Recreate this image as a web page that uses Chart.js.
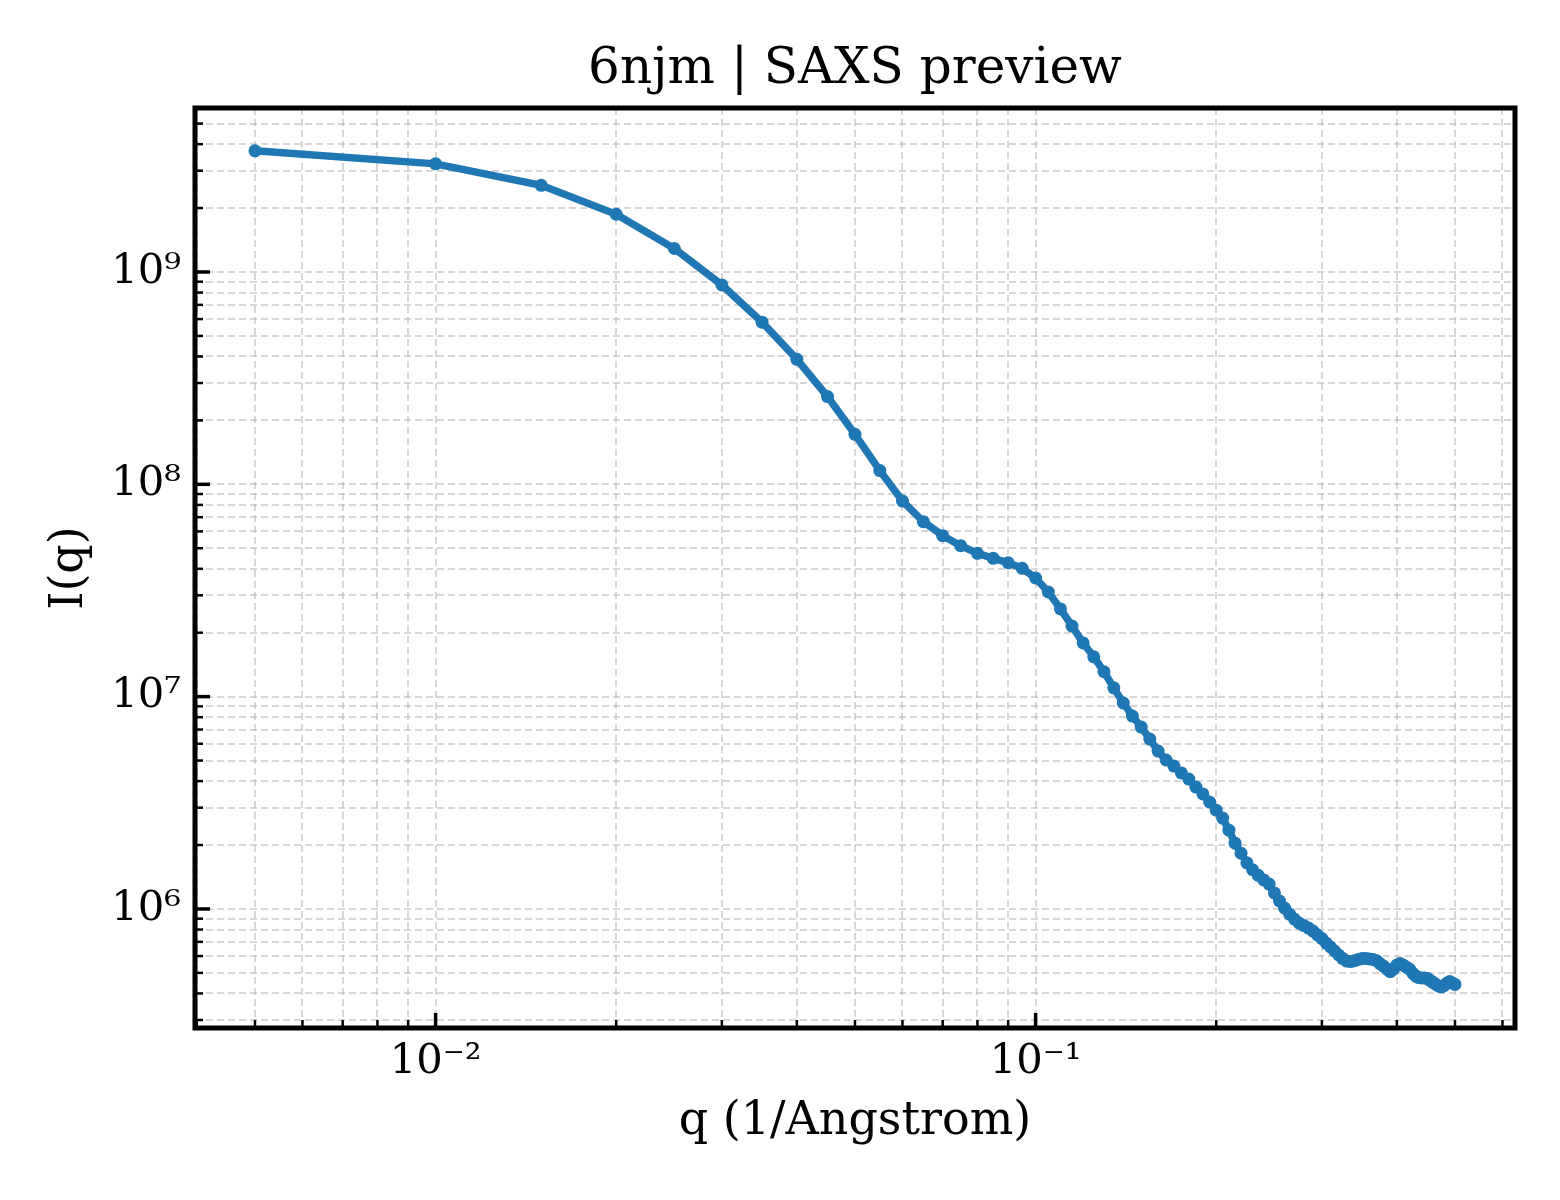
<!DOCTYPE html>
<html>
<head>
<meta charset="utf-8">
<title>6njm | SAXS preview</title>
<script src="https://cdn.jsdelivr.net/npm/chart.js@4.4.1/dist/chart.umd.min.js"></script>
<style>
  html, body { margin: 0; padding: 0; background: #ffffff; }
  #saxs-chart { display: block; }
</style>
</head>
<body>
<canvas id="saxs-chart" width="1560" height="1200" style="width:1560px;height:1200px"></canvas>
<script>
// q values (1/Angstrom)
var qValues = [
  0.005, 0.010, 0.015, 0.020, 0.025, 0.030, 0.035, 0.040, 0.045, 0.050,
  0.055, 0.060, 0.065, 0.070, 0.075, 0.080, 0.085, 0.090, 0.095, 0.100,
  0.105, 0.110, 0.115, 0.120, 0.125, 0.130, 0.135, 0.140, 0.145, 0.150,
  0.155, 0.160, 0.165, 0.170, 0.175, 0.180, 0.185, 0.190, 0.195, 0.200,
  0.205, 0.210, 0.215, 0.220, 0.225, 0.230, 0.235, 0.240, 0.245, 0.250,
  0.255, 0.260, 0.265, 0.270, 0.275, 0.280, 0.285, 0.290, 0.295, 0.300,
  0.305, 0.310, 0.315, 0.320, 0.325, 0.330, 0.335, 0.340, 0.345, 0.350,
  0.355, 0.360, 0.365, 0.370, 0.375, 0.380, 0.385, 0.390, 0.395, 0.400,
  0.405, 0.410, 0.415, 0.420, 0.425, 0.430, 0.435, 0.440, 0.445, 0.450,
  0.455, 0.460, 0.465, 0.470, 0.475, 0.480, 0.485, 0.490, 0.495, 0.500
];

// I(q)
var intensity = [
  3.72e9, 3.23e9, 2.56e9, 1.87e9, 1.29e9, 8.69e8, 5.80e8, 3.88e8, 2.59e8, 1.72e8,
  1.16e8, 8.34e7, 6.67e7, 5.73e7, 5.14e7, 4.73e7, 4.48e7, 4.27e7, 4.02e7, 3.62e7,
  3.11e7, 2.59e7, 2.15e7, 1.79e7, 1.54e7, 1.31e7, 1.10e7, 9.33e6, 8.10e6, 7.19e6,
  6.31e6, 5.54e6, 5.03e6, 4.71e6, 4.37e6, 4.09e6, 3.75e6, 3.48e6, 3.19e6, 2.92e6,
  2.68e6, 2.35e6, 2.04e6, 1.83e6, 1.65e6, 1.53e6, 1.44e6, 1.37e6, 1.31e6, 1.19e6,
  1.09e6, 1.01e6, 9.46e5, 8.96e5, 8.58e5, 8.35e5, 8.13e5, 7.87e5, 7.54e5, 7.25e5,
  6.91e5, 6.62e5, 6.34e5, 6.07e5, 5.84e5, 5.68e5, 5.65e5, 5.71e5, 5.78e5, 5.84e5,
  5.84e5, 5.81e5, 5.78e5, 5.71e5, 5.53e5, 5.38e5, 5.21e5, 5.07e5, 5.21e5, 5.44e5,
  5.53e5, 5.44e5, 5.32e5, 5.21e5, 4.99e5, 4.83e5, 4.75e5, 4.73e5, 4.73e5, 4.70e5,
  4.60e5, 4.50e5, 4.41e5, 4.33e5, 4.29e5, 4.36e5, 4.48e5, 4.55e5, 4.48e5, 4.41e5
];

// major ticks and their labels
var xMajorTicks = [0.01, 0.1];
var xTickLabels = ['10\u207B\u00B2', '10\u207B\u00B9'];
var yMajorTicks = [1e6, 1e7, 1e8, 1e9];
var yTickLabels = ['10\u2076', '10\u2077', '10\u2078', '10\u2079'];

var xRange = [0.003972, 0.6295];
var yRange = [2.75e5, 5.92e9];

var serif = "'DejaVu Serif', 'Liberation Serif', serif";

// 1..9 x 10^n inside the range, like matplotlib's log locator
function logTicks(min, max) {
  var out = [];
  for (var e = Math.floor(Math.log10(min)); e <= Math.ceil(Math.log10(max)); e++) {
    for (var m = 1; m <= 9; m++) {
      var v = m * Math.pow(10, e);
      if (v >= min && v <= max) out.push(v);
    }
  }
  return out;
}

function isMajor(v, majors) {
  return majors.some(function (m) { return Math.abs(v / m - 1) < 1e-9; });
}

function labelFor(v, majors, labels) {
  for (var i = 0; i < majors.length; i++) {
    if (Math.abs(v / majors[i] - 1) < 1e-9) return labels[i];
  }
  return '';
}

// box frame + inward tick marks (matplotlib style)
var frameAndTicks = {
  id: 'frameAndTicks',
  afterDraw: function (chart) {
    var ctx = chart.ctx;
    var a = chart.chartArea;
    var xs = chart.scales.x, ys = chart.scales.y;
    ctx.save();
    ctx.strokeStyle = '#000000';
    ctx.lineCap = 'butt';
    xs.ticks.forEach(function (t) {
      var major = isMajor(t.value, xMajorTicks);
      var px = xs.getPixelForValue(t.value);
      ctx.lineWidth = major ? 3.5 : 2.5;
      ctx.beginPath();
      ctx.moveTo(px, a.bottom);
      ctx.lineTo(px, a.bottom - (major ? 15 : 8));
      ctx.stroke();
    });
    ys.ticks.forEach(function (t) {
      var major = isMajor(t.value, yMajorTicks);
      var py = ys.getPixelForValue(t.value);
      ctx.lineWidth = major ? 3.5 : 2.5;
      ctx.beginPath();
      ctx.moveTo(a.left, py);
      ctx.lineTo(a.left + (major ? 15 : 8), py);
      ctx.stroke();
    });
    ctx.lineWidth = 5;
    ctx.strokeRect(a.left, a.top, a.right - a.left, a.bottom - a.top);
    ctx.restore();
  }
};

var points = qValues.map(function (q, i) { return { x: q, y: intensity[i] }; });

new Chart(document.getElementById('saxs-chart'), {
  type: 'line',
  data: {
    datasets: [
      {
        label: 'I(q)',
        data: points,
        borderColor: '#1f77b4',
        backgroundColor: '#1f77b4',
        borderWidth: 7.5,
        pointRadius: 6.5,
        pointBorderWidth: 0,
        pointBackgroundColor: '#1f77b4',
        tension: 0,
        fill: false
      }
    ]
  },
  options: {
    responsive: false,
    animation: false,
    devicePixelRatio: 1,
    layout: { padding: { top: 40, right: 45, bottom: 0, left: 0 } },
    plugins: {
      legend: { display: false },
      tooltip: { enabled: false },
      title: {
        display: true,
        fullSize: false,
        text: '6njm | SAXS preview',
        color: '#000000',
        font: { family: serif, size: 50, weight: 'normal', lineHeight: 1.2 },
        padding: { top: 0, bottom: 8 }
      }
    },
    scales: {
      x: {
        type: 'logarithmic',
        min: xRange[0],
        max: xRange[1],
        afterBuildTicks: function (scale) {
          scale.ticks = logTicks(xRange[0], xRange[1]).map(function (v) { return { value: v }; });
        },
        afterFit: function (scale) { scale.height = 172; },
        ticks: {
          autoSkip: false,
          maxRotation: 0,
          padding: 9,
          color: '#000000',
          font: { family: serif, size: 41.7 },
          callback: function (v) { return labelFor(v, xMajorTicks, xTickLabels); }
        },
        grid: {
          color: 'rgba(176,176,176,0.5)',
          lineWidth: 2,
          drawTicks: false
        },
        border: { display: false, dash: [7, 4] },
        title: {
          display: true,
          text: 'q (1/Angstrom)',
          color: '#000000',
          font: { family: serif, size: 46, lineHeight: 1.2 },
          padding: { top: 0, bottom: 50 }
        }
      },
      y: {
        type: 'logarithmic',
        min: yRange[0],
        max: yRange[1],
        afterBuildTicks: function (scale) {
          scale.ticks = logTicks(yRange[0], yRange[1]).map(function (v) { return { value: v }; });
        },
        afterFit: function (scale) { scale.width = 195; },
        ticks: {
          autoSkip: false,
          padding: 14,
          color: '#000000',
          font: { family: serif, size: 41.7 },
          callback: function (v) { return labelFor(v, yMajorTicks, yTickLabels); }
        },
        grid: {
          color: 'rgba(176,176,176,0.5)',
          lineWidth: 2,
          drawTicks: false
        },
        border: { display: false, dash: [7, 4] },
        title: {
          display: true,
          text: 'I(q)',
          color: '#000000',
          font: { family: serif, size: 46, lineHeight: 1.2 },
          padding: { top: 42, bottom: 0 }
        }
      }
    }
  },
  plugins: [frameAndTicks]
});
</script>
</body>
</html>
